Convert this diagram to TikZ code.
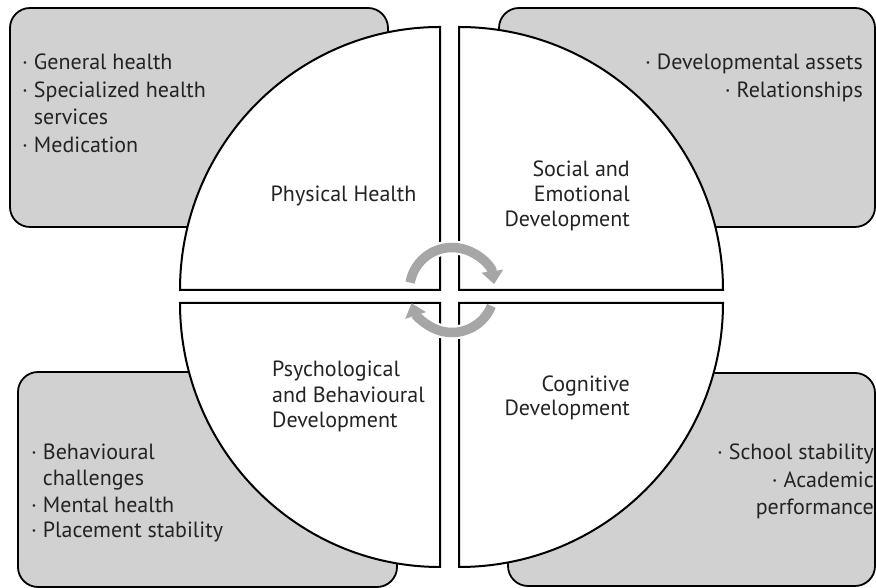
\documentclass[tikz,border=0pt]{standalone}
\usepackage{fontspec}
\setmainfont{PT Sans}
\usetikzlibrary{arrows.meta}
\definecolor{boxgray}{RGB}{209,209,209}
\definecolor{arrgray}{RGB}{166,166,166}
\definecolor{txt}{RGB}{35,35,35}
\begin{document}
\begin{tikzpicture}[x=1pt,y=1pt,
  box/.style={draw=black, line width=1.8pt, fill=boxgray, rounded corners=20pt},
  quad/.style={draw=black, line width=2pt, fill=white},
  lbl/.style={inner sep=0pt, text=txt, font=\fontsize{22}{26}\selectfont},
  cyc/.style={arrgray, line width=9.5pt, -{Triangle[width=21pt,length=13pt]}},
  halo/.style={white, line width=14pt}
]
\useasboundingbox (0,0) rectangle (876,588);
% grey boxes
\draw[box] (10,361) rectangle (388,580);
\draw[box] (499,361) rectangle (875,580);
\draw[box] (18,1) rectangle (397,216);
\draw[box] (508,2) rectangle (875,215);
% quadrants
\draw[quad] (440,298) -- (180,298) arc[start angle=180,end angle=90,x radius=260,y radius=263] -- cycle;
\draw[quad] (459,298) -- (459,561) arc[start angle=90,end angle=0,x radius=264,y radius=263] -- cycle;
\draw[quad] (440,285) -- (180,285) arc[start angle=180,end angle=270,x radius=260,y radius=264] -- cycle;
\draw[quad] (459,285) -- (723,285) arc[start angle=0,end angle=-90,x radius=264,y radius=264] -- cycle;
% cycle arrows
\coordinate (cc) at (452,298);
\draw[halo] ([shift={(140:42.5)}]cc) arc[start angle=140,end angle=40,radius=42.5];
\draw[halo] ([shift={(-40:42.5)}]cc) arc[start angle=-40,end angle=-140,radius=42.5];
\draw[cyc] ([shift={(170:42.5)}]cc) arc[start angle=170,end angle=8,radius=42.5];
\draw[cyc] ([shift={(-22:42.5)}]cc) arc[start angle=-22,end angle=-162,radius=42.5];
% top-left list
\node[lbl, anchor=base west] (tl1) at (22,518) {· General health};
\node[lbl, anchor=base west] (tl2) at (22,490) {· Specialized health};
\node[lbl, anchor=base west] (tl3) at (22,463) {\phantom{· }services};
\node[lbl, anchor=base west] (tl4) at (22,435) {· Medication};
% top-right list
\node[lbl, anchor=base east] (tr1) at (863,518) {· Developmental assets};
\node[lbl, anchor=base east] (tr2) at (863,490) {· Relationships};
% quadrant titles
\node[lbl, anchor=base] (ph) at (343.5,386) {Physical Health};
\node[lbl, anchor=base east] (se1) at (630,411) {Social and};
\node[lbl, anchor=base east] (se2) at (630,386) {Emotional};
\node[lbl, anchor=base east] (se3) at (630,361) {Development};
\node[lbl, anchor=base west] (pb1) at (272,211) {Psychological};
\node[lbl, anchor=base west] (pb2) at (272,185) {and Behavioural};
\node[lbl, anchor=base west] (pb3) at (272,160) {Development};
\node[lbl, anchor=base east] (cd1) at (630,196) {Cognitive};
\node[lbl, anchor=base east] (cd2) at (630,172) {Development};
% bottom-left list
\node[lbl, anchor=base west] (bl1) at (31,128) {· Behavioural};
\node[lbl, anchor=base west] (bl2) at (31,102) {\phantom{· }challenges};
\node[lbl, anchor=base west] (bl3) at (31,75) {· Mental health};
\node[lbl, anchor=base west] (bl4) at (31,50) {· Placement stability};
% bottom-right list
\node[lbl, anchor=base east] (br1) at (874,128) {· School stability};
\node[lbl, anchor=base east] (br2) at (874,100) {· Academic};
\node[lbl, anchor=base east] (br3) at (874,73) {performance};
\end{tikzpicture}
\end{document}
